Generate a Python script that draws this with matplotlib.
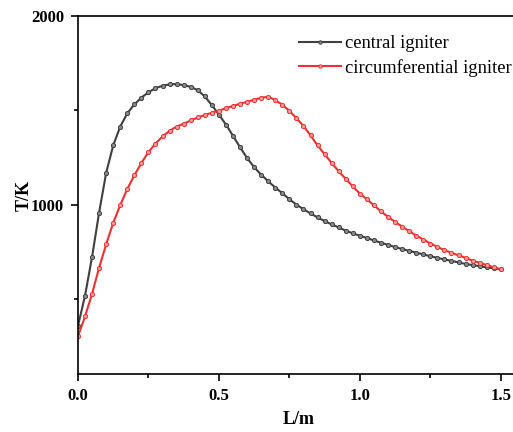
import matplotlib
matplotlib.use("Agg")
import matplotlib.pyplot as plt
from matplotlib.ticker import MultipleLocator

# position along the chamber (m)
L_M = [0.000, 0.025, 0.050, 0.075, 0.100, 0.125, 0.150, 0.175, 0.200, 0.225,
       0.250, 0.275, 0.300, 0.325, 0.350, 0.375, 0.400, 0.425, 0.450, 0.475,
       0.500, 0.525, 0.550, 0.575, 0.600, 0.625, 0.650, 0.675, 0.700, 0.725,
       0.750, 0.775, 0.800, 0.825, 0.850, 0.875, 0.900, 0.925, 0.950, 0.975,
       1.000, 1.025, 1.050, 1.075, 1.100, 1.125, 1.150, 1.175, 1.200, 1.225,
       1.250, 1.275, 1.300, 1.325, 1.350, 1.375, 1.400, 1.425, 1.450, 1.475,
       1.500]

# temperature (K), central igniter
T_CENTRAL = [360, 520, 725, 960, 1170, 1315, 1415, 1485, 1532, 1568,
             1596, 1618, 1631, 1638, 1640, 1634, 1625, 1607, 1574, 1528,
             1478, 1425, 1366, 1305, 1248, 1200, 1160, 1125, 1092, 1062,
             1030, 1002, 977, 955, 934, 915, 897, 881, 864, 850,
             837, 825, 812, 800, 789, 777, 767, 757, 748, 738,
             729, 720, 712, 704, 696, 688, 682, 676, 670, 665,
             660]

# temperature (K), circumferential igniter
T_CIRCUM = [305, 410, 530, 668, 792, 905, 1000, 1085, 1157, 1222,
            1280, 1325, 1363, 1392, 1415, 1430, 1447, 1463, 1476, 1488,
            1499, 1512, 1524, 1535, 1546, 1557, 1567, 1573, 1555, 1530,
            1498, 1459, 1418, 1368, 1315, 1268, 1222, 1178, 1138, 1098,
            1060, 1030, 998, 966, 937, 910, 886, 861, 838, 817,
            796, 778, 761, 747, 734, 720, 705, 694, 682, 670,
            660]

SERIES_NAMES = ["central igniter", "circumferential igniter"]

plt.rcParams["font.family"] = ["Liberation Serif", "DejaVu Serif"]

fig = plt.figure(figsize=(5.13, 4.32), dpi=100)
ax = fig.add_axes([0.152, 0.134, 0.86, 0.829])

ax.plot(L_M, T_CENTRAL, color="#3f3f3f", lw=1.5, marker="o", ms=3.0,
        mfc="#8a8a8a", mec="#3f3f3f", mew=0.7, label=SERIES_NAMES[0])
ax.plot(L_M, T_CIRCUM, color="#f03030", lw=1.5, marker="o", ms=3.0,
        mfc="#ff9a9a", mec="#f03030", mew=0.7, label=SERIES_NAMES[1])

ax.set_xlim(0, 1.565)
ax.set_ylim(105, 2000)
ax.xaxis.set_major_locator(MultipleLocator(0.5))
ax.xaxis.set_minor_locator(MultipleLocator(0.25))
ax.set_yticks([1000, 2000])
ax.set_yticks([500, 1500], minor=True)
ax.xaxis.set_major_formatter(plt.FormatStrFormatter("%.1f"))

ax.spines["right"].set_visible(False)
for s in ("left", "bottom", "top"):
    ax.spines[s].set_linewidth(1.2)
ax.tick_params(which="both", direction="out", width=1.2, top=False, right=False)
ax.tick_params(which="major", length=5, labelsize=12, pad=5)
ax.tick_params(which="minor", length=3)
for lab in ax.get_xticklabels() + ax.get_yticklabels():
    lab.set_fontweight("bold")

ax.set_xlabel("L/m", fontsize=13, fontweight="bold", labelpad=5)
ax.set_ylabel("T/K", fontsize=13, fontweight="bold", labelpad=-1.3)

ax.legend(loc="upper left", bbox_to_anchor=(299 / 513, 1 - 35 / 432),
          bbox_transform=fig.transFigure, frameon=False,
          fontsize=13.3, handlelength=2.3, handletextpad=0.2, labelspacing=0.38,
          markerscale=0.8, borderaxespad=0, borderpad=0)

fig.savefig("out.png", dpi=100)
